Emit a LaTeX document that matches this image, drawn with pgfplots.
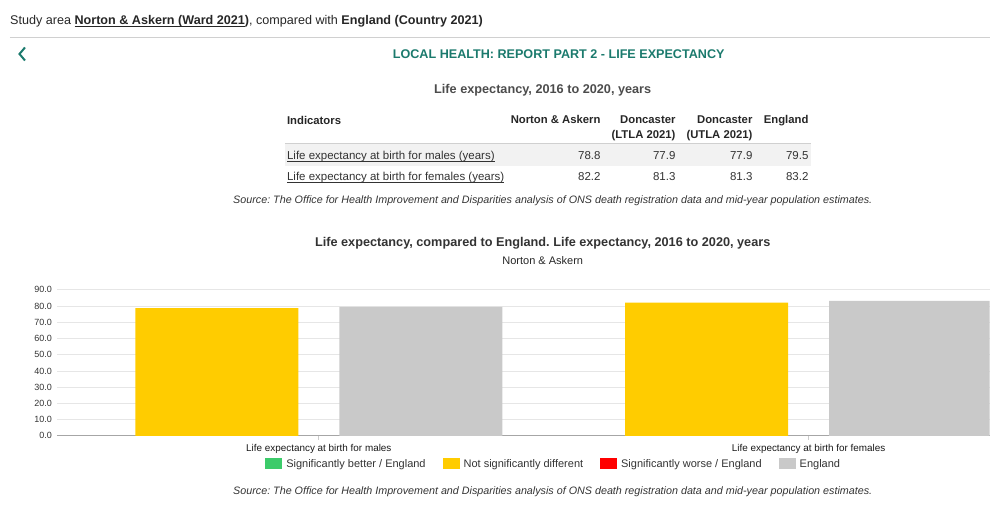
\documentclass[border=0pt]{standalone}
\usepackage{pgfplots}
\pgfplotsset{compat=1.18}
\usepackage{fontspec}
\setmainfont{Liberation Sans}
\frenchspacing
\definecolor{teal}{HTML}{1B7A6D}
\definecolor{yel}{HTML}{FFCC00}
\definecolor{gry}{HTML}{C9C9C9}
\definecolor{grn}{HTML}{3CCB6A}
\definecolor{rd}{HTML}{FF0000}
\definecolor{txt}{HTML}{333333}
\definecolor{rule}{HTML}{D0D0D0}
\definecolor{rowbg}{HTML}{F2F2F2}
\definecolor{gridc}{HTML}{E6E6E6}
\newcommand\fs[1]{\fontsize{#1pt}{#1pt}\selectfont}
\newcommand\ul[1]{\underline{\smash{#1}}}
\pgfplotsset{sq/.style={legend image code/.code={\fill[##1] (0pt,-5.5pt) rectangle (17pt,5.5pt);}}}
\begin{document}
\begin{tikzpicture}
\begin{scope}[x=1pt,y=-1pt]
\path[use as bounding box] (0,0) rectangle (990,528);
\node[anchor=base west,inner sep=0pt,text=black!85] at (10,25) {\fs{12.6}Study area \textbf{\ul{Norton \& Askern (Ward 2021}}\textbf{)}, compared with \textbf{England (Country 2021)}};
\draw[rule] (10,37.5) -- (990,37.5);
\draw[teal,line width=2pt] (25,47.5) -- (19.5,54) -- (25,60.5);
\node[text=teal,inner sep=0pt] at (559,54) {\fs{12.6}\bfseries LOCAL HEALTH: REPORT PART 2 - LIFE EXPECTANCY};
\node[text=black!70,inner sep=0pt] at (543,90) {\fs{12.7}\bfseries Life expectancy, 2016 to 2020, years};
% table
\fill[rowbg] (285,144) rectangle (811,166);
\draw[rule] (285,143.5) -- (811,143.5);
\node[anchor=base west,inner sep=0pt,text=black!85] at (287,125) {\fs{11.3}\bfseries Indicators};
\node[anchor=base east,inner sep=0pt,text=black!85] at (601,123.5) {\fs{11.3}\bfseries Norton \& Askern};
\node[anchor=base east,inner sep=0pt,text=black!85] at (676,123.5) {\fs{11.3}\bfseries Doncaster};
\node[anchor=base east,inner sep=0pt,text=black!85] at (676,138.5) {\fs{11.3}\bfseries (LTLA 2021)};
\node[anchor=base east,inner sep=0pt,text=black!85] at (753,123.5) {\fs{11.3}\bfseries Doncaster};
\node[anchor=base east,inner sep=0pt,text=black!85] at (753,138.5) {\fs{11.3}\bfseries (UTLA 2021)};
\node[anchor=base east,inner sep=0pt,text=black!85] at (809,123.5) {\fs{11.3}\bfseries England};
\node[anchor=base west,inner sep=0pt,text=txt] at (287,159.5) {\fs{11.5}\ul{Life expectancy at birth for males (years)}};
\node[anchor=base west,inner sep=0pt,text=txt] at (287,180.5) {\fs{11.5}\ul{Life expectancy at birth for females (years)}};
\foreach \x/\a/\b in {601/78.8/82.2,676/77.9/81.3,753/77.9/81.3,809/79.5/83.2}{
  \node[anchor=base east,inner sep=0pt,text=txt] at (\x,159.5) {\fs{11.5}\a};
  \node[anchor=base east,inner sep=0pt,text=txt] at (\x,180.5) {\fs{11.5}\b};
}
\node[inner sep=0pt,text=txt] at (553,201) {\fs{10.75}\itshape Source: The Office for Health Improvement and Disparities analysis of ONS death registration data and mid-year population estimates.};
\node[inner sep=0pt,text=black!80] at (543,243) {\fs{12.7}\bfseries Life expectancy, compared to England. Life expectancy, 2016 to 2020, years};
\node[inner sep=0pt,text=black!85] at (543,261) {\fs{11}Norton \& Askern};
\node[inner sep=0pt,text=txt] at (553,492) {\fs{10.75}\itshape Source: The Office for Health Improvement and Disparities analysis of ONS death registration data and mid-year population estimates.};
\end{scope}
\begin{axis}[
  at={(57pt,-436pt)}, anchor=south west,
  scale only axis, width=933pt, height=146pt,
  xmin=-0.5347, xmax=1.3694, ymin=0, ymax=90,
  axis x line*=bottom, axis y line*=left,
  y axis line style={draw=none},
  x axis line style={draw=black!35,line width=1pt},
  ytick={0,10,...,90},
  ymajorgrids, grid style={gridc,line width=0.8pt},
  ytick style={draw=none},
  xtick={0,1},
  xticklabels={Life expectancy at birth for males,Life expectancy at birth for females},
  xtick style={draw=black!20,line width=0.8pt},
  major tick length=4pt, tick align=outside,
  xticklabel style={font=\fs{9.9},text=black!90,yshift=-1pt},
  yticklabel style={font=\fs{9},text=black!80,xshift=2.5pt},
  /pgf/number format/.cd, fixed, fixed zerofill, precision=1, assume math mode=true,
  /pgfplots/.cd,
  legend columns=4,
  legend style={at={(0.5337,-0.192)},anchor=center,draw=none,fill=none,font=\fs{11},text=txt,
    nodes={inner xsep=4pt},
    /tikz/every even column/.append style={column sep=13pt}},
  legend cell align=left,
]
\addlegendimage{fill=grn,draw=none,sq}
\addplot[ybar,bar width=163pt,bar shift=-102pt,fill=yel,draw=none,sq] coordinates {(0,78.8) (1,82.2)};
\addlegendimage{fill=rd,draw=none,sq}
\addplot[ybar,bar width=163pt,bar shift=102pt,fill=gry,draw=none,sq] coordinates {(0,79.5) (1,83.2)};
\legend{Significantly better / England,Not significantly different,Significantly worse / England,England}
\end{axis}
\end{tikzpicture}
\end{document}
